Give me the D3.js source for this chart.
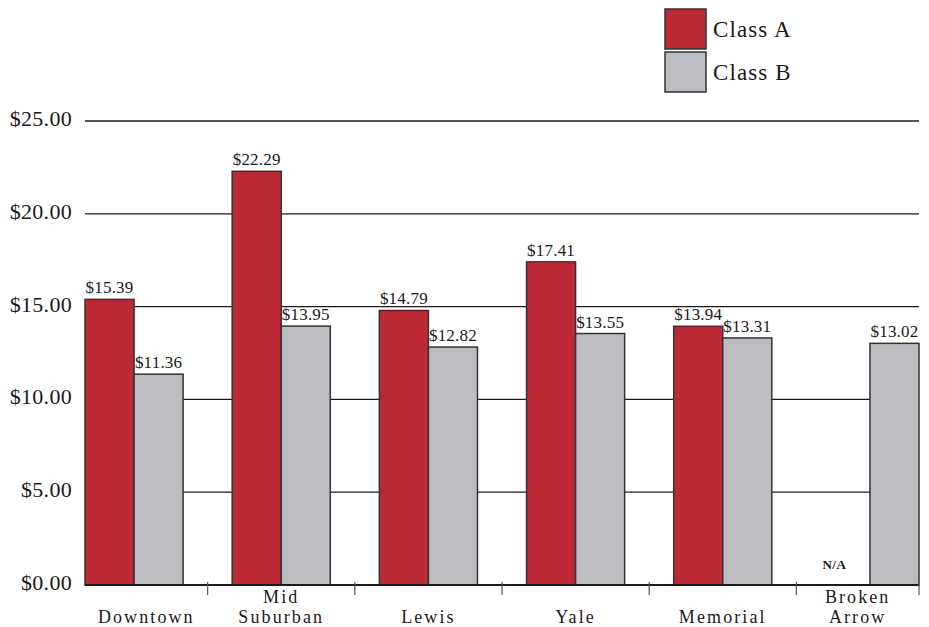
<!DOCTYPE html>
<html>
<head>
<meta charset="utf-8">
<script src="https://cdn.jsdelivr.net/npm/d3@7"></script>
<style>
  html, body { margin: 0; padding: 0; background: #fff; }
  svg { display: block; }
  text { font-family: "Liberation Serif", "Times New Roman", serif; fill: #1a1a1a; }
</style>
</head>
<body>
<svg id="chart" width="929" height="627"></svg>
<script>
// Average asking rents by submarket
const categories = ["Downtown", "Mid Suburban", "Lewis", "Yale", "Memorial", "Broken Arrow"];
const categoryLines = [["Downtown"], ["Mid", "Suburban"], ["Lewis"], ["Yale"], ["Memorial"], ["Broken", "Arrow"]];
const seriesNames = ["Class A", "Class B"];
const classA = [15.39, 22.29, 14.79, 17.41, 13.94, null];
const classB = [11.36, 13.95, 12.82, 13.55, 13.31, 13.02];
const yTicks = [0, 5, 10, 15, 20, 25];
const colors = ["#be2936", "#bcbdc1"];

const svg = d3.select("#chart");
const plotLeft = 85, plotRight = 919, plotTop = 121, plotBottom = 585;

// each group holds three slots: Class A, Class B and an empty spacer
const slot = (plotRight - plotLeft) / 17;
const x0 = d3.scaleBand().domain(categories).range([plotLeft, plotLeft + 18 * slot]).padding(0);
const x1 = d3.scaleBand().domain(["A", "B", "gap"]).range([0, x0.bandwidth()]).padding(0);
const y = d3.scaleLinear().domain([0, 25]).range([plotBottom, plotTop]);
const money = d3.format("$.2f");

// horizontal gridlines
svg.append("g").selectAll("line").data(yTicks.filter(t => t > 0)).join("line")
  .attr("x1", plotLeft).attr("x2", plotRight)
  .attr("y1", d => y(d)).attr("y2", d => y(d))
  .attr("stroke", "#1a1a1a").attr("stroke-width", 1.3);

// y axis labels
const yAxis = d3.axisLeft(y).tickValues(yTicks).tickFormat(money).tickSize(0).tickPadding(13);
const gy = svg.append("g").attr("transform", `translate(${plotLeft},0)`).call(yAxis);
gy.select(".domain").remove();
gy.selectAll("text").attr("font-family", "Liberation Serif, serif").attr("font-size", 22)
  .attr("fill", "#1a1a1a").attr("dy", "0.2em").style("letter-spacing", "0.3px");

// bars
const rows = categories.map((c, i) => ({ c, vals: [{ k: "A", v: classA[i], s: 0 }, { k: "B", v: classB[i], s: 1 }] }));
const groups = svg.append("g").selectAll("g").data(rows).join("g")
  .attr("transform", d => `translate(${x0(d.c)},0)`);

groups.selectAll("rect").data(d => d.vals.filter(e => e.v != null)).join("rect")
  .attr("x", d => x1(d.k)).attr("width", x1.bandwidth())
  .attr("y", d => y(d.v)).attr("height", d => y(0) - y(d.v))
  .attr("fill", d => colors[d.s]).attr("stroke", "#333").attr("stroke-width", 1.5);

groups.selectAll("text.val").data(d => d.vals).join("text")
  .attr("class", "val")
  .attr("x", d => x1(d.k) + x1.bandwidth() / 2 + (d.v == null ? -11 : 0))
  .attr("y", d => d.v == null ? y(0) - 16 : y(d.v) - 6)
  .attr("text-anchor", "middle")
  .attr("font-size", d => d.v == null ? 13 : 17)
  .attr("font-weight", d => d.v == null ? "bold" : "normal")
  .style("letter-spacing", d => d.v == null ? "0.5px" : "0.2px")
  .text(d => d.v == null ? "N/A" : money(d.v));

// baseline and category separators
svg.append("line").attr("x1", plotLeft).attr("x2", plotRight).attr("y1", y(0)).attr("y2", y(0))
  .attr("stroke", "#1a1a1a").attr("stroke-width", 1.8);

const sepX = categories.slice(0, -1).map(c => x0(c) + x1("gap") + x1.bandwidth() / 2);
sepX.push(plotRight);
svg.append("g").selectAll("line").data(sepX).join("line")
  .attr("x1", d => d).attr("x2", d => d)
  .attr("y1", y(0) - 3).attr("y2", y(0) + 10)
  .attr("stroke", "#555").attr("stroke-width", 1.2);

// category labels, centred between separators, one text per line
const bounds = [plotLeft].concat(sepX);
const labelLines = [];
categoryLines.forEach((lines, i) => {
  lines.forEach((line, j) => {
    labelLines.push({
      text: line,
      x: (bounds[i] + bounds[i + 1]) / 2,
      y: 623 - (lines.length - 1 - j) * 20
    });
  });
});
svg.append("g").selectAll("text").data(labelLines).join("text")
  .attr("x", d => d.x).attr("y", d => d.y)
  .attr("text-anchor", "middle").attr("font-size", 18)
  .style("letter-spacing", "2.1px")
  .text(d => d.text);

// legend
const legend = svg.append("g").selectAll("g").data(seriesNames).join("g")
  .attr("transform", (d, i) => `translate(665,${9 + i * 43})`);
legend.append("rect").attr("width", 41).attr("height", 40)
  .attr("fill", (d, i) => colors[i]).attr("stroke", "#333").attr("stroke-width", 1.5);
legend.append("text").attr("x", 48).attr("y", 28).attr("font-size", 23)
  .style("letter-spacing", "1.1px").text(d => d);
</script>
</body>
</html>
